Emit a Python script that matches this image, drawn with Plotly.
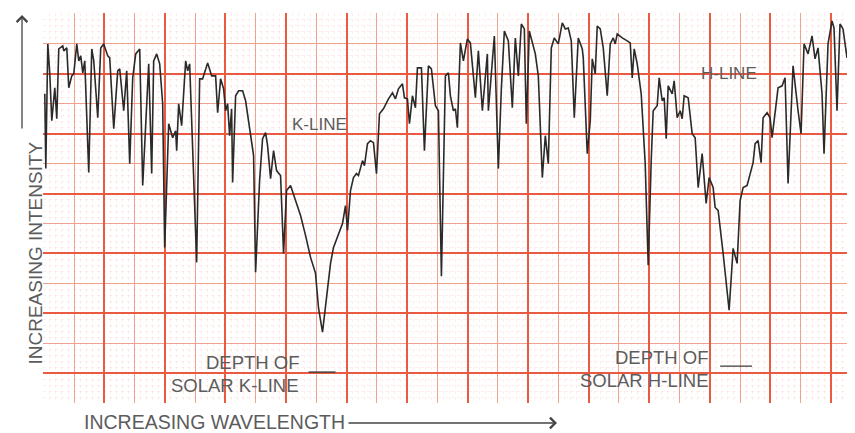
import plotly.graph_objects as go

# Chart-recorder trace (arbitrary chart units: wavelength increases to the right,
# intensity increases upward).
wavelength = [
    1, 2, 4, 6, 8, 11, 13, 15, 19, 20, 23, 25, 28, 30, 33, 35, 37, 39, 41, 45,
    48, 50, 54, 57, 60, 64, 66, 70, 74, 76, 80, 83, 86, 89, 92, 96, 99, 102, 105, 108,
    110, 113, 116, 119, 121, 125, 129, 132, 133, 135, 138, 142, 144, 146, 153, 156, 159, 164, 168, 172,
    174, 177, 180, 182, 184, 186, 188, 189, 192, 195, 199, 202, 206, 210, 212, 216, 219, 222, 224, 227,
    230, 233, 237, 240, 243, 247, 252, 257, 262, 267, 272, 275, 279, 282, 287, 290, 295, 299, 302, 304,
    307, 310, 313, 315, 319, 321, 324, 327, 330, 333, 336, 340, 345, 349, 352, 355, 359, 361, 364, 366,
    369, 372, 374, 378, 381, 385, 388, 392, 395, 398, 402, 405, 407, 410, 412, 414, 417, 420, 424, 427,
    432, 435, 439, 444, 445, 449, 451, 455, 458, 461, 465, 469, 472, 475, 478, 481, 483, 486, 489, 492,
    495, 499, 502, 505, 508, 511, 515, 519, 522, 525, 528, 531, 535, 539, 540, 544, 547, 549, 552, 554,
    557, 560, 564, 567, 570, 572, 574, 579, 584, 587, 589, 591, 594, 598, 602, 605, 608, 610, 614, 616,
    619, 621, 623, 625, 629, 631, 634, 637, 639, 641, 645, 649, 652, 655, 659, 663, 666, 670, 672, 675,
    680, 686, 690, 694, 697, 700, 704, 710, 712, 715, 718, 720, 724, 727, 729, 731, 735, 739, 742, 745,
    750, 755, 758, 761, 765, 769, 772, 775, 779, 781, 785, 789, 791, 794, 797, 800, 804, 807, 810,
]
intensity = [
    310, 235, 360, 330, 283, 316, 285, 355, 358, 353, 356, 316, 328, 330, 360, 343, 348, 331, 343, 231,
    355, 343, 286, 356, 360, 348, 346, 275, 333, 335, 293, 333, 240, 326, 350, 355, 218, 283, 340, 230,
    343, 350, 340, 300, 156, 280, 266, 273, 253, 300, 278, 343, 333, 340, 141, 325, 325, 341, 328, 328,
    291, 325, 315, 293, 300, 268, 295, 221, 308, 313, 313, 303, 273, 248, 131, 223, 265, 271, 258, 225,
    253, 233, 228, 150, 213, 218, 203, 188, 168, 146, 130, 95, 71, 96, 140, 156, 170, 180, 198, 173,
    213, 226, 230, 228, 243, 238, 260, 263, 261, 230, 290, 295, 305, 311, 305, 315, 320, 306, 305, 280,
    308, 296, 336, 336, 253, 338, 335, 298, 293, 127, 328, 331, 308, 293, 295, 276, 361, 343, 365, 361,
    306, 353, 293, 350, 293, 340, 368, 235, 315, 373, 363, 296, 366, 328, 380, 375, 280, 373, 360, 350,
    328, 226, 268, 240, 356, 366, 360, 381, 375, 376, 363, 286, 366, 355, 346, 250, 283, 345, 330, 378,
    375, 356, 308, 360, 366, 360, 370, 366, 363, 361, 326, 355, 340, 310, 240, 138, 243, 293, 298, 326,
    303, 306, 265, 318, 310, 323, 286, 293, 285, 308, 306, 270, 266, 216, 250, 200, 226, 216, 196, 193,
    150, 93, 155, 140, 203, 216, 218, 241, 260, 263, 241, 286, 291, 286, 266, 285, 316, 318, 326, 220,
    338, 293, 270, 360, 350, 368, 345, 356, 310, 250, 360, 383, 376, 293, 380, 375, 346, 383, 385,
]

# Markers for the depth of the solar lines (intensity level) and their horizontal extent
solar_k_depth = 31
solar_k_span = [265, 292]
solar_h_depth = 37
solar_h_span = [677, 709]

# Chart-paper divisions
x_max = 812
y_max = 390
x_div = 30.3
y_div = 30

# The page body has an 8px margin; size the figure so the plot lands where the reference has it
PAGE_OFF = 8
W, H = 855 - PAGE_OFF, 433 - PAGE_OFF
PLOT_L, PLOT_R, PLOT_T, PLOT_B = 43, 855, 13, 403   # page pixels of the plot area
ML, MR, MT, MB = PLOT_L - PAGE_OFF, 0, PLOT_T - PAGE_OFF, 433 - PLOT_B

text_col = "#5c5c5c"
font_fam = "Liberation Sans, Arial, sans-serif"
thick_red = "#ea5a40"
thin_red = "#f2a291"
fine_red = "rgba(242,150,130,0.16)"

fig = go.Figure()

fig.add_trace(go.Scatter(
    x=wavelength, y=intensity, mode="lines",
    line=dict(color="#2a2a2a", width=1.6),
    xaxis="x2", yaxis="y2", hoverinfo="skip", showlegend=False,
))

# depth-of-solar-line marks
for span, depth in ((solar_k_span, solar_k_depth), (solar_h_span, solar_h_depth)):
    fig.add_trace(go.Scatter(
        x=span, y=[depth, depth], mode="lines",
        line=dict(color="#3a3a3a", width=1.4),
        xaxis="x2", yaxis="y2", hoverinfo="skip", showlegend=False,
    ))

base_axis = dict(showticklabels=False, ticks="", zeroline=False, showline=False, fixedrange=True)

fig.update_layout(
    width=W, height=H,
    margin=dict(l=ML, r=MR, t=MT, b=MB, autoexpand=False),
    paper_bgcolor="#ffffff", plot_bgcolor="#ffffff",
    showlegend=False,
    # fine dotted sub-grid
    xaxis=dict(range=[-0.8, x_max], tick0=0, dtick=x_div / 5, showgrid=True,
               gridcolor=fine_red, gridwidth=1, griddash="dot", **base_axis),
    yaxis=dict(range=[0, y_max + 1], tick0=0, dtick=y_div / 5, showgrid=True,
               gridcolor=fine_red, gridwidth=1, griddash="dot", **base_axis),
    # main chart-paper grid (thick every second line)
    xaxis2=dict(range=[-0.8, x_max], overlaying="x", tick0=0, dtick=2 * x_div, showgrid=True,
                gridcolor=thick_red, gridwidth=1.8,
                minor=dict(tick0=0, dtick=x_div, showgrid=True, gridcolor=thin_red, gridwidth=1.1),
                **base_axis),
    yaxis2=dict(range=[0, y_max + 1], overlaying="y", tick0=y_div, dtick=2 * y_div, showgrid=True,
                gridcolor=thick_red, gridwidth=1.8,
                minor=dict(tick0=0, dtick=y_div, showgrid=True, gridcolor=thin_red, gridwidth=1.1),
                **base_axis),
)

def px_x(p):
    return (p - PLOT_L) / (PLOT_R - PLOT_L)

def px_y(p):
    return (PLOT_B - p) / (PLOT_B - PLOT_T)

ann = []
# labels on the chart
ann.append(dict(x=276, y=279, xref="x", yref="y", text="K-LINE", showarrow=False,
                font=dict(size=17, color=text_col, family=font_fam)))
ann.append(dict(x=686, y=330, xref="x", yref="y", text="H-LINE", showarrow=False,
                font=dict(size=17, color=text_col, family=font_fam)))
ann.append(dict(x=209, y=41, xref="x", yref="y", text="DEPTH OF", showarrow=False,
                font=dict(size=18.5, color=text_col, family=font_fam)))
ann.append(dict(x=191, y=18, xref="x", yref="y", text="SOLAR K-LINE", showarrow=False,
                font=dict(size=18.5, color=text_col, family=font_fam)))
ann.append(dict(x=619, y=46, xref="x", yref="y", text="DEPTH OF", showarrow=False,
                font=dict(size=18.5, color=text_col, family=font_fam)))
ann.append(dict(x=601, y=23, xref="x", yref="y", text="SOLAR H-LINE", showarrow=False,
                font=dict(size=18.5, color=text_col, family=font_fam)))

# axis titles with arrows
ann.append(dict(x=px_x(347), y=px_y(422), xref="paper", yref="paper", xanchor="right",
                yanchor="middle", text="INCREASING WAVELENGTH", showarrow=False,
                font=dict(size=19.5, color=text_col, family=font_fam)))
ann.append(dict(x=px_x(557), y=px_y(423), xref="paper", yref="paper", text="",
                showarrow=True, ax=-210, ay=0, arrowhead=4, arrowsize=1.6, arrowwidth=1.3,
                arrowcolor="#444444"))
ann.append(dict(x=px_x(22), y=px_y(253), xref="paper", yref="paper", textangle=-90,
                text="INCREASING INTENSITY", showarrow=False,
                font=dict(size=19, color=text_col, family=font_fam)))
ann.append(dict(x=px_x(22), y=px_y(15), xref="paper", yref="paper", text="",
                showarrow=True, ax=0, ay=115, arrowhead=4, arrowsize=1.6, arrowwidth=1.3,
                arrowcolor="#444444"))

fig.update_layout(annotations=ann)

fig.write_html("out.html")
